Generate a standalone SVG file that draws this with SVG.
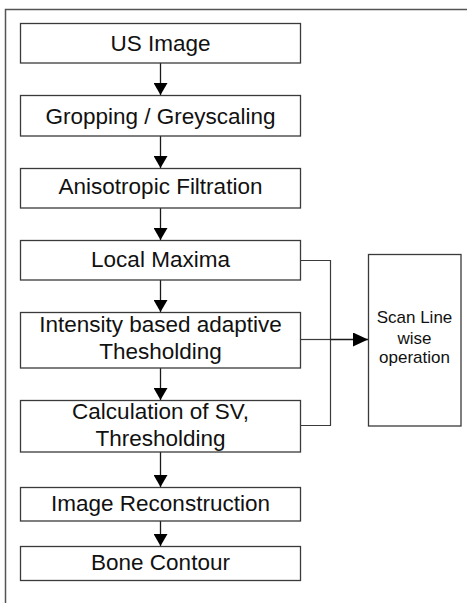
<svg xmlns="http://www.w3.org/2000/svg" width="467" height="603" viewBox="0 0 467 603">
  <style>
    .box { fill: #ffffff; stroke: #3a3a3a; stroke-width: 1.3; }
    .lbl { font-family: "Liberation Sans", Arial, sans-serif; font-size: 22.5px; fill: #111111; text-anchor: middle; }
    .small { font-family: "Liberation Sans", Arial, sans-serif; font-size: 17px; fill: #111111; text-anchor: middle; }
    .wire { fill: none; stroke: #1a1a1a; stroke-width: 1.3; }
    .thin { fill: none; stroke: #3a3a3a; stroke-width: 1.2; }
    .frame { fill: none; stroke: #555555; stroke-width: 1.5; }
  </style>
  <defs>
    <marker id="head" viewBox="0 0 12 14" refX="12" refY="7" markerWidth="12" markerHeight="14" markerUnits="userSpaceOnUse" orient="auto">
      <path d="M0,0 L12,7 L0,14 Z" fill="#000000"/>
    </marker>
    <marker id="head-side" viewBox="0 0 15 14" refX="15" refY="7" markerWidth="15" markerHeight="14" markerUnits="userSpaceOnUse" orient="auto">
      <path d="M0,0 L15,7 L0,14 Z" fill="#000000"/>
    </marker>
  </defs>

  <rect width="467" height="603" fill="#ffffff"/>

  <!-- page frame (left and top edges) -->
  <path class="frame" d="M5.5,603 V9.5 H467"/>

  <!-- connectors -->
  <g id="connectors">
    <line class="wire" x1="160.5" y1="63" x2="160.5" y2="95" marker-end="url(#head)"/>
    <line class="wire" x1="160.5" y1="136" x2="160.5" y2="168" marker-end="url(#head)"/>
    <line class="wire" x1="160.5" y1="208" x2="160.5" y2="240" marker-end="url(#head)"/>
    <line class="wire" x1="160.5" y1="280" x2="160.5" y2="312" marker-end="url(#head)"/>
    <line class="wire" x1="160.5" y1="368" x2="160.5" y2="400" marker-end="url(#head)"/>
    <line class="wire" x1="160.5" y1="452" x2="160.5" y2="487" marker-end="url(#head)"/>
    <line class="wire" x1="160.5" y1="521" x2="160.5" y2="546" marker-end="url(#head)"/>
    <!-- bracket gathering the scan-line stages -->
    <path class="thin" d="M301,260.5 H330.5 V425.5 H301"/>
    <line class="thin" x1="301" y1="339.5" x2="330.5" y2="339.5"/>
    <line class="wire" x1="330.5" y1="339.5" x2="368" y2="339.5" stroke-width="2" marker-end="url(#head-side)"/>
  </g>

  <g id="us-image">
    <rect class="box" x="20.5" y="23.5" width="280" height="39.5"/>
    <text class="lbl" x="160.5" y="51">US Image</text>
  </g>

  <g id="cropping">
    <rect class="box" x="20.5" y="95.5" width="280" height="40.5"/>
    <text class="lbl" x="160.5" y="123.5">Gropping / Greyscaling</text>
  </g>

  <g id="anisotropic">
    <rect class="box" x="20.5" y="168.5" width="280" height="39.5"/>
    <text class="lbl" x="160.5" y="193.5">Anisotropic Filtration</text>
  </g>

  <g id="local-maxima">
    <rect class="box" x="20.5" y="240.5" width="280" height="39.5"/>
    <text class="lbl" x="160.5" y="266.5">Local Maxima</text>
  </g>

  <g id="adaptive-threshold">
    <rect class="box" x="20.5" y="312.5" width="280" height="55.5"/>
    <text class="lbl" x="160.5" y="332">Intensity based adaptive</text>
    <text class="lbl" x="160.5" y="359">Thesholding</text>
  </g>

  <g id="sv-threshold">
    <rect class="box" x="20.5" y="400.5" width="280" height="51.5"/>
    <text class="lbl" x="160.5" y="419">Calculation of SV,</text>
    <text class="lbl" x="160.5" y="446">Thresholding</text>
  </g>

  <g id="reconstruction">
    <rect class="box" x="20.5" y="487.5" width="280" height="33.5"/>
    <text class="lbl" x="160.5" y="510.5">Image Reconstruction</text>
  </g>

  <g id="bone-contour">
    <rect class="box" x="20.5" y="546.5" width="280" height="34"/>
    <text class="lbl" x="160.5" y="569.5">Bone Contour</text>
  </g>

  <g id="scan-line">
    <rect class="box" x="368.5" y="254.5" width="92.5" height="171.5"/>
    <text class="small" x="414.5" y="323">Scan Line</text>
    <text class="small" x="414.5" y="343.5">wise</text>
    <text class="small" x="414.5" y="363">operation</text>
  </g>
</svg>
